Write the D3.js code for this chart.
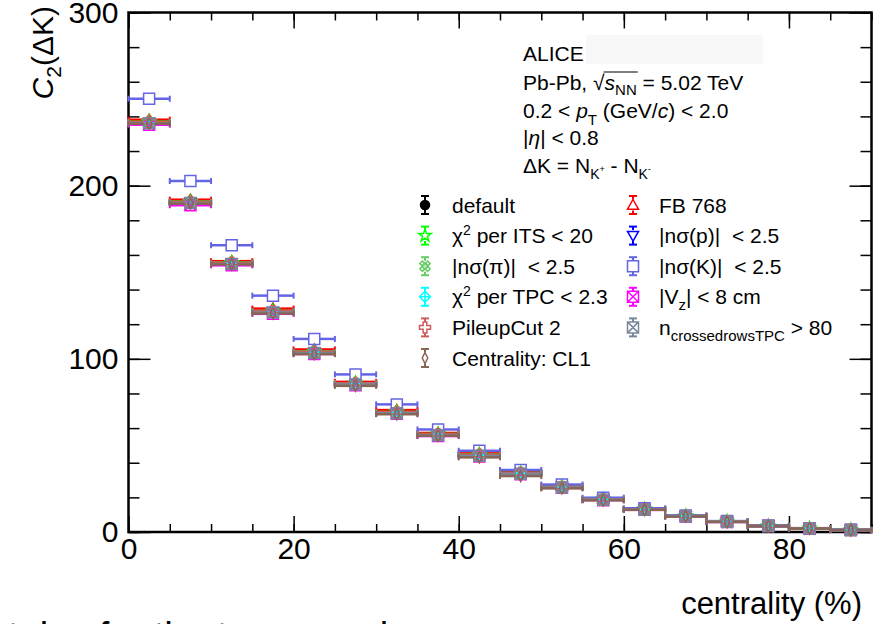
<!DOCTYPE html>
<html>
<head>
<meta charset="utf-8">
<script src="https://cdn.jsdelivr.net/npm/d3@7"></script>
<style>
  body { margin: 0; background: #fff; }
  svg { display: block; font-family: "Liberation Sans", Arial, sans-serif; }
  text { white-space: pre; }
</style>
</head>
<body>
<svg id="viz" width="889" height="624"></svg>
<script>
// centrality bins (%), each 5% wide
var binCentres = [2.5, 7.5, 12.5, 17.5, 22.5, 27.5, 32.5, 37.5, 42.5, 47.5, 52.5, 57.5, 62.5, 67.5, 72.5, 77.5, 82.5, 87.5];
var binHalfWidth = 2.5;

var xTicksMajor = [0, 20, 40, 60, 80];
var yTicksMajor = [0, 100, 200, 300];

// C2(dK) for each systematic variation
var c2Default     = [236.8, 190.6, 155.4, 127.5, 104.0, 85.8, 69.2, 56.5, 44.5, 34.0, 26.0, 18.8, 13.1, 9.2, 6.0, 3.5, 2.1, 1.2];
var c2FB768       = [238.1, 191.9, 156.4, 129.0, 105.4, 86.7, 70.4, 57.2, 45.4, 34.6, 26.5, 19.1, 13.3, 9.4, 6.1, 3.6, 2.2, 1.2];
var c2ChiITS      = [236.9, 190.7, 155.5, 127.6, 104.1, 85.9, 69.3, 56.6, 44.6, 34.1, 26.1, 18.9, 13.2, 9.3, 6.0, 3.5, 2.1, 1.2];
var c2NSigmaP     = [236.5, 190.4, 155.2, 127.3, 103.8, 85.6, 69.0, 56.3, 44.3, 33.9, 25.9, 18.7, 13.0, 9.1, 5.9, 3.4, 2.0, 1.1];
var c2NSigmaPi    = [236.3, 190.3, 155.0, 127.2, 103.7, 85.5, 68.9, 56.2, 44.2, 33.8, 25.8, 18.7, 13.0, 9.1, 5.9, 3.4, 2.0, 1.1];
var c2NSigmaK     = [250.2, 202.7, 165.6, 136.5, 111.5, 91.0, 73.7, 59.2, 46.9, 35.8, 27.4, 19.8, 13.7, 9.6, 6.3, 3.7, 2.2, 1.3];
var c2ChiTPC      = [236.6, 190.5, 155.3, 127.4, 103.9, 85.7, 69.1, 56.4, 44.4, 33.9, 25.9, 18.8, 13.1, 9.2, 6.0, 3.5, 2.1, 1.2];
var c2Vz          = [235.2, 188.7, 154.0, 126.0, 102.8, 84.8, 68.3, 55.4, 43.6, 33.3, 25.5, 18.4, 12.8, 9.0, 5.8, 3.4, 2.0, 1.1];
var c2Pileup      = [236.7, 190.5, 155.4, 127.5, 104.0, 85.8, 69.2, 56.5, 44.5, 34.0, 26.0, 18.8, 13.1, 9.2, 6.0, 3.5, 2.1, 1.2];
var c2CrossedRows = [236.0, 190.0, 154.8, 126.8, 103.3, 85.2, 68.6, 55.9, 44.0, 33.6, 25.7, 18.6, 12.9, 9.1, 5.9, 3.4, 2.0, 1.1];
var c2CL1         = [235.8, 189.6, 154.5, 126.2, 102.7, 84.4, 68.0, 55.6, 43.1, 32.3, 25.2, 18.3, 12.8, 9.0, 5.8, 3.4, 2.0, 1.1];

// legend labels: [text, "n" normal | "sub" | "sup"]
var legendLabels = [
  [["default", "n"]],
  [["FB 768", "n"]],
  [["\u03c7", "n"], ["2", "sup"], [" per ITS < 20", "n"]],
  [["|n\u03c3(p)|  < 2.5", "n"]],
  [["|n\u03c3(\u03c0)|  < 2.5", "n"]],
  [["|n\u03c3(K)|  < 2.5", "n"]],
  [["\u03c7", "n"], ["2", "sup"], [" per TPC < 2.3", "n"]],
  [["|V", "n"], ["z", "sub"], ["| < 8 cm", "n"]],
  [["PileupCut 2", "n"]],
  [["n", "n"], ["crossedrowsTPC", "sub"], [" > 80", "n"]],
  [["Centrality: CL1", "n"]]
];

var seriesValues = [c2Default, c2FB768, c2ChiITS, c2NSigmaP, c2NSigmaPi, c2NSigmaK, c2ChiTPC, c2Vz, c2Pileup, c2CrossedRows, c2CL1];
var seriesColors = ["#000000", "#ff0000", "#00ff00", "#0000ff", "#66cc66", "#6464e6", "#00ffff", "#ff00ff", "#cd5c5c", "#778899", "#886655"];
var seriesMarkers = ["circle", "triUp", "star", "triDown", "xcross", "square", "diamondCross", "squareX", "cross", "squareX", "diamond"];

var svg = d3.select("#viz");

var x = d3.scaleLinear().domain([0, 90]).range([128.5, 871.5]);
var y = d3.scaleLinear().domain([0, 300]).range([532, 12.5]);

// marker outlines, centred on 0,0
function poly(pts, rot) {
  var c = Math.cos(rot || 0), s = Math.sin(rot || 0);
  return "M" + pts.map(function(p){ return (p[0]*c - p[1]*s).toFixed(2) + "," + (p[0]*s + p[1]*c).toFixed(2); }).join("L") + "Z";
}
function markerPath(type, size) {
  var h = size / 2, w = h / 3;
  var crossPts = [[-w,-h],[w,-h],[w,-w],[h,-w],[h,w],[w,w],[w,h],[-w,h],[-w,w],[-h,w],[-h,-w],[-w,-w]];
  switch (type) {
    case "circle": return d3.symbol(d3.symbolCircle, Math.PI * 4.5 * 4.5)();
    case "triUp": return poly([[0,-h],[h,h*0.75],[-h,h*0.75]]);
    case "triDown": return poly([[0,h],[h,-h*0.75],[-h,-h*0.75]]);
    case "star": return d3.symbol(d3.symbolStar, size * size * 0.4)();
    case "cross": return poly(crossPts);
    case "xcross": return poly(crossPts, Math.PI / 4) + poly(crossPts.map(function(p){ return [p[0]*0.6, p[1]*0.6]; }));
    case "square": return poly([[-h,-h],[h,-h],[h,h],[-h,h]]);
    case "squareX": return poly([[-h,-h],[h,-h],[h,h],[-h,h]]) + "M" + (-h) + "," + (-h) + "L" + h + "," + h + "M" + h + "," + (-h) + "L" + (-h) + "," + h;
    case "diamondCross": return poly([[0,-h],[h,0],[0,h],[-h,0]]) + "M0," + (-h) + "V" + h + "M" + (-h) + ",0H" + h;
    case "diamond": return poly([[0,-h],[h*0.5,0],[0,h],[-h*0.5,0]]);
  }
}

var series = seriesValues.map(function(v, i){
  return { values: v, color: seriesColors[i], marker: seriesMarkers[i], label: legendLabels[i] };
});

// ---- axes ----
function styleAxis(g) {
  g.select(".domain").remove();
  g.selectAll(".tick line").attr("stroke", "#000").attr("stroke-width", 1.5);
  g.selectAll("text").attr("fill", "#000").attr("font-size", 30).attr("font-family", null);
  g.attr("font-family", null);
}
var minorX = d3.range(0, 91, 5), minorY = d3.range(0, 301, 20);

svg.append("g").attr("transform", "translate(0,532)")
  .call(d3.axisBottom(x).tickValues(minorX).tickSizeInner(-8).tickSizeOuter(0).tickFormat(""))
  .call(styleAxis);
svg.append("g").attr("transform", "translate(0,532)")
  .call(d3.axisBottom(x).tickValues(xTicksMajor).tickSizeInner(-16).tickSizeOuter(0).tickPadding(6))
  .call(styleAxis);
svg.append("g").attr("transform", "translate(0,12.5)")
  .call(d3.axisTop(x).tickValues(minorX).tickSizeInner(-8).tickSizeOuter(0).tickFormat(""))
  .call(styleAxis);
svg.append("g").attr("transform", "translate(0,12.5)")
  .call(d3.axisTop(x).tickValues(xTicksMajor).tickSizeInner(-16).tickSizeOuter(0).tickFormat(""))
  .call(styleAxis);
svg.append("g").attr("transform", "translate(128.5,0)")
  .call(d3.axisLeft(y).tickValues(minorY).tickSizeInner(-11).tickSizeOuter(0).tickFormat(""))
  .call(styleAxis);
svg.append("g").attr("transform", "translate(128.5,0)")
  .call(d3.axisLeft(y).tickValues(yTicksMajor).tickSizeInner(-22).tickSizeOuter(0).tickPadding(10))
  .call(styleAxis);
svg.append("g").attr("transform", "translate(871.5,0)")
  .call(d3.axisRight(y).tickValues(minorY).tickSizeInner(-11).tickSizeOuter(0).tickFormat(""))
  .call(styleAxis);
svg.append("g").attr("transform", "translate(871.5,0)")
  .call(d3.axisRight(y).tickValues(yTicksMajor).tickSizeInner(-22).tickSizeOuter(0).tickFormat(""))
  .call(styleAxis);

// frame
svg.append("rect")
  .attr("x", x(0)).attr("y", y(300))
  .attr("width", x(90) - x(0)).attr("height", y(0) - y(300))
  .attr("fill", "none").attr("stroke", "#000").attr("stroke-width", 2.5);

// ---- data points with horizontal bin-width bars ----
series.forEach(function(s){
  var ms = s.marker === "circle" ? 9 : 11;
  var g = svg.append("g").attr("stroke", s.color).attr("fill", "none");
  var pts = s.values.map(function(v, i){ return { c: binCentres[i], v: v }; });

  g.selectAll("line.left").data(pts).join("line")
    .attr("x1", d => x(d.c - binHalfWidth)).attr("x2", d => x(d.c) - ms/2)
    .attr("y1", d => y(d.v)).attr("y2", d => y(d.v)).attr("stroke-width", 2.5);
  g.selectAll("line.right").data(pts).join("line")
    .attr("x1", d => x(d.c) + ms/2).attr("x2", d => x(d.c + binHalfWidth))
    .attr("y1", d => y(d.v)).attr("y2", d => y(d.v)).attr("stroke-width", 2.5);
  // end caps
  g.selectAll("line.capL").data(pts).join("line")
    .attr("x1", d => x(d.c - binHalfWidth)).attr("x2", d => x(d.c - binHalfWidth))
    .attr("y1", d => y(d.v) - 3).attr("y2", d => y(d.v) + 3).attr("stroke-width", 2);
  g.selectAll("line.capR").data(pts).join("line")
    .attr("x1", d => x(d.c + binHalfWidth)).attr("x2", d => x(d.c + binHalfWidth))
    .attr("y1", d => y(d.v) - 3).attr("y2", d => y(d.v) + 3).attr("stroke-width", 2);

  g.selectAll("path").data(pts).join("path")
    .attr("transform", d => "translate(" + x(d.c) + "," + y(d.v) + ")")
    .attr("d", markerPath(s.marker, ms))
    .attr("fill", s.marker === "circle" ? s.color : "none")
    .attr("stroke-width", 1.5);
});

// ---- legend ----
var legend = svg.append("g");
series.forEach(function(s, k){
  var col = k % 2, row = Math.floor(k / 2);
  var mx = col ? 633 : 425, ty = 205 + row * 30.6;
  var ms = s.marker === "circle" ? 9 : 11;
  var e = legend.append("g").attr("stroke", s.color).attr("fill", "none").attr("stroke-width", 2);
  e.append("line").attr("x1", mx).attr("x2", mx).attr("y1", ty - 9).attr("y2", ty - ms/2);
  e.append("line").attr("x1", mx).attr("x2", mx).attr("y1", ty + ms/2).attr("y2", ty + 9);
  e.append("line").attr("x1", mx - 4).attr("x2", mx + 4).attr("y1", ty - 9).attr("y2", ty - 9);
  e.append("line").attr("x1", mx - 4).attr("x2", mx + 4).attr("y1", ty + 9).attr("y2", ty + 9);
  e.append("path").attr("transform", "translate(" + mx + "," + ty + ")")
    .attr("d", markerPath(s.marker, ms))
    .attr("fill", s.marker === "circle" ? s.color : "none").attr("stroke-width", 1.5);

  var t = legend.append("text").attr("x", col ? 659 : 452).attr("y", ty + 7.5).attr("font-size", 21);
  var shift = 0;
  s.label.forEach(function(p){
    var dy = 0, fs = 21;
    if (p[1] === "sup") { dy = -8; fs = 14; }
    if (p[1] === "sub") { dy = 6; fs = 15; }
    t.append("tspan").attr("dy", dy - shift).attr("font-size", fs).text(p[0]);
    shift = dy;
  });
});

// ---- ALICE info text ----
var info = svg.append("g").attr("font-size", 21).attr("fill", "#000");
info.append("rect").attr("x", 586).attr("y", 35).attr("width", 177).attr("height", 29).attr("fill", "#f8f8f8");
info.append("text").attr("x", 523).attr("y", 61).text("ALICE");

var l2 = info.append("text").attr("x", 523).attr("y", 90);
l2.append("tspan").text("Pb-Pb, ");
var sq = l2.append("tspan").text("\u221a");
l2.append("tspan").attr("font-style", "italic").text("s");
l2.append("tspan").attr("font-size", 15).attr("dy", 5).text("NN");
l2.append("tspan").attr("dy", -5).text(" = 5.02 TeV");
var ovStart = sq.node().getEndPositionOfChar(0).x - 1;
var ovEnd = l2.node().getEndPositionOfChar(10).x + 1;
info.append("line").attr("x1", ovStart).attr("x2", ovEnd).attr("y1", 72).attr("y2", 72)
  .attr("stroke", "#000").attr("stroke-width", 1.2);

var l3 = info.append("text").attr("x", 523).attr("y", 118);
l3.append("tspan").text("0.2 < ");
l3.append("tspan").attr("font-style", "italic").text("p");
l3.append("tspan").attr("font-size", 15).attr("dy", 7).text("T");
l3.append("tspan").attr("dy", -7).text(" (GeV/");
l3.append("tspan").attr("font-style", "italic").text("c");
l3.append("tspan").text(") < 2.0");

var l4 = info.append("text").attr("x", 523).attr("y", 145);
l4.append("tspan").text("|");
l4.append("tspan").attr("font-style", "italic").text("\u03b7");
l4.append("tspan").text("| < 0.8");

var l5 = info.append("text").attr("x", 523).attr("y", 173);
l5.append("tspan").text("\u0394K = N");
l5.append("tspan").attr("font-size", 14).attr("dy", 6).text("K");
l5.append("tspan").attr("font-size", 9).attr("dy", -7).text("+");
l5.append("tspan").attr("dy", 1).text(" - N");
l5.append("tspan").attr("font-size", 14).attr("dy", 6).text("K");
l5.append("tspan").attr("font-size", 9).attr("dy", -7).text("-");

// ---- axis titles ----
var yt = svg.append("text").attr("transform", "translate(53,6) rotate(-90)")
  .attr("text-anchor", "end").attr("font-size", 30);
yt.append("tspan").attr("font-style", "italic").text("C");
yt.append("tspan").attr("font-size", 21).attr("dy", 8).text("2");
yt.append("tspan").attr("dy", -8).text("(\u0394K)");

svg.append("text").attr("x", 862).attr("y", 614).attr("text-anchor", "end")
  .attr("font-size", 31).text("centrality (%)");

// caption line cut off at the bottom of the picture
svg.append("text").attr("x", 8).attr("y", 649).attr("font-size", 38).text("tales for the two samples");
</script>
</body>
</html>
